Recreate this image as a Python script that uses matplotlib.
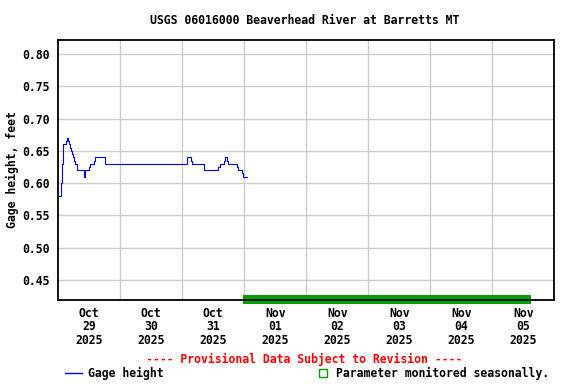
#!/usr/bin/env python3
"""USGS gage height plot: Beaverhead River at Barretts MT (provisional)."""

import matplotlib
matplotlib.use('Agg')
import matplotlib.pyplot as plt
from matplotlib import rcParams
from matplotlib.patches import Rectangle
from matplotlib.transforms import blended_transform_factory

rcParams['font.family'] = 'DejaVu Sans Mono'
rcParams['font.weight'] = 'bold'
rcParams['font.size'] = 8.3

# ---------------------- Data ----------------------
# hours since Oct 29 2025 00:00, value holds until next time (step)
hours = [0.0, 0.9, 1.1, 1.3, 1.5, 1.7, 2.0, 3.0, 3.4, 3.75, 4.1, 4.5, 4.9,
         5.3, 5.7, 6.1, 6.5, 7.2, 9.9, 10.3, 11.9, 12.3, 13.8, 14.2, 18.1,
         49.9, 51.2, 51.9, 56.4, 61.9, 62.6, 64.2, 64.6, 65.4, 65.8, 69.0,
         69.7, 71.0, 71.6, 72.9]
gage_height = [0.58, 0.59, 0.60, 0.61, 0.63, 0.645, 0.66, 0.665, 0.67, 0.665,
               0.66, 0.655, 0.65, 0.645, 0.64, 0.635, 0.63, 0.62, 0.61, 0.62,
               0.625, 0.63, 0.635, 0.64, 0.63, 0.64, 0.635, 0.63, 0.62, 0.625,
               0.63, 0.635, 0.64, 0.635, 0.63, 0.625, 0.62, 0.615, 0.61, 0.61]

day_labels = ['Oct\n29\n2025', 'Oct\n30\n2025', 'Oct\n31\n2025', 'Nov\n01\n2025',
              'Nov\n02\n2025', 'Nov\n03\n2025', 'Nov\n04\n2025', 'Nov\n05\n2025']
y_ticks = [0.45, 0.50, 0.55, 0.60, 0.65, 0.70, 0.75, 0.80]

# seasonal (not monitored) period, hours
seasonal_start = 71.4
seasonal_end = 182.9

title = 'USGS 06016000 Beaverhead River at Barretts MT'

# ---------------------- Plot ----------------------
fig = plt.figure(figsize=(5.76, 3.84), dpi=100)
ax = fig.add_axes([58.3 / 576, 1 - 300.3 / 384, 496 / 576, 260.3 / 384])

ax.plot(hours, gage_height, color='#0000ff', linewidth=0.8,
        drawstyle='steps-post', zorder=3)

n_days = len(day_labels)
ax.set_xlim(0, 24 * n_days)
ax.set_ylim(0.4187, 0.8216)

ax.set_xticks([24 * i for i in range(1, n_days)])
ax.set_xticklabels([])
ax.set_xticks([24 * i + 12 for i in range(n_days)], minor=True)
ax.set_xticklabels(day_labels, minor=True, linespacing=1.02)
ax.tick_params(axis='x', which='both', length=0)
ax.tick_params(axis='x', which='minor', pad=5)

ax.set_yticks(y_ticks)
ax.set_yticklabels([f'{v:.2f}' for v in y_ticks])
ax.tick_params(axis='y', length=0, pad=6)

ax.grid(True, which='major', color='#cccccc', linewidth=1.0)
ax.set_axisbelow(True)
for sp in ax.spines.values():
    sp.set_linewidth(1.3)
    sp.set_zorder(4)

# seasonal bar straddling the bottom axis
trans = blended_transform_factory(ax.transData, ax.transAxes)
ax.add_patch(Rectangle((seasonal_start, -0.0142), seasonal_end - seasonal_start,
                       0.0346, transform=trans, color='#009f00',
                       clip_on=False, zorder=2.8, linewidth=0))

fig.text(305 / 576, 1 - 20 / 384, title, ha='center', va='center')
fig.text(12 / 576, 1 - 170 / 384, 'Gage height, feet', rotation=90,
         ha='center', va='center')
fig.text(304 / 576, 1 - 359 / 384, '---- Provisional Data Subject to Revision ----',
         ha='center', va='center', color='#ff0000')

# legend
fig.add_artist(plt.Line2D([65 / 576, 82 / 576], [1 - 373 / 384, 1 - 373 / 384],
                          color='#0000ff', linewidth=1.0))
fig.text(88 / 576, 1 - 373 / 384, 'Gage height', ha='left', va='center')
fig.add_artist(Rectangle((318.5 / 576, 1 - 377 / 384), 8 / 576, 8 / 384,
                         facecolor='none', edgecolor='#009f00', linewidth=1.0))
fig.text(336 / 576, 1 - 373 / 384, 'Parameter monitored seasonally.',
         ha='left', va='center')

fig.savefig('out.png', dpi=100)
